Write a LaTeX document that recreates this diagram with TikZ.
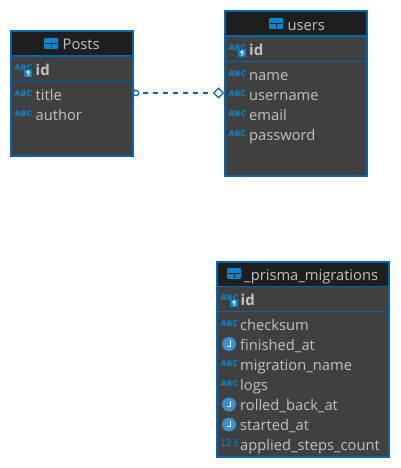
\documentclass[tikz,border=0pt]{standalone}
\usepackage{fontspec}
\setmainfont{Open Sans}
\newfontfamily\iconfont{DejaVu Sans}
\usetikzlibrary{shapes.geometric}
\definecolor{edge}{HTML}{0167AB}
\definecolor{bodyc}{HTML}{404040}
\definecolor{headc}{HTML}{1E1E1E}
\definecolor{txt}{HTML}{C2C2C2}
\definecolor{iconb}{HTML}{0A86CC}
\definecolor{iconl}{HTML}{3A90D2}
\tikzset{
 x=1pt,y=-1pt,
 tablebox/.style={draw=edge,line width=2.2pt,fill=bodyc,inner sep=0pt,anchor=north west},
 title/.style={text=txt,font=\fontsize{14.7}{16}\selectfont,inner sep=0pt,anchor=base west},
 col/.style={text=txt,font=\fontsize{14.7}{16}\selectfont,inner sep=0pt,anchor=base west},
 pk/.style={col,font=\fontsize{15}{16}\selectfont\bfseries},
 abc/.style={text=iconb,font=\iconfont\fontsize{7.8}{9}\selectfont\bfseries,inner sep=0pt},
 num/.style={text=iconb,font=\iconfont\fontsize{9.5}{10}\selectfont,inner sep=0pt},
 rel/.style={draw=edge,line width=1.5pt,dash pattern=on 5.5pt off 4.5pt,dash phase=6.5pt},
 endmark/.style={draw=edge,fill=white,line width=1.2pt,inner sep=0pt},
}
% table: name, x, y, width, height, title x, header bottom, separator y, icon x
\newcommand{\tbl}[9]{%
 \node[tablebox,minimum width=#4pt,minimum height=#5pt] (#1) at (#2,#3) {};
 \fill[headc] (#2+2,#3+2) rectangle (#2+#4,#7-1.5);
 \fill[edge] (#2+2,#7-1.5) rectangle (#2+#4,#7);
 \fill[edge] (#2+2,#8) rectangle (#2+#4,#8+0.8);
 \fill[iconb,rounded corners=1.2pt] (#9,#7-19) rectangle (#9+14,#7-8);
 \fill[headc] (#9+1,#7-14) rectangle (#9+13,#7-13.2);
 \fill[headc] (#9+6.6,#7-14) rectangle (#9+7.4,#7-9);
}
\newcommand{\abcicon}[2]{\node[abc,anchor=center] at (#1+8.5,#2) {ABC};}
\newcommand{\keyicon}[2]{%
 \node[abc,anchor=center] at (#1+8.5,#2-2) {ABC};
 \fill[iconb] (#1+9,#2) rectangle (#1+17,#2+7);
 \draw[white,line width=0.8pt] (#1+13,#2+2) circle (1.4);
 \draw[white,line width=0.8pt] (#1+13.9,#2+3) -- (#1+13.9,#2+4.6) -- (#1+12,#2+5.8);
}
\newcommand{\clockicon}[2]{%
 \fill[iconl] (#1+8,#2) circle (7);
 \draw[white,line width=0.8pt] (#1+9.5,#2-4) -- (#1+9.5,#2+2) -- (#1+5.5,#2+2);
}
\begin{document}
\begin{tikzpicture}
\useasboundingbox (0,0) rectangle (400,468);
\fill[white] (0,0) rectangle (400,468);
% Posts
\tbl{posts}{10}{30}{122}{125}{62}{57}{81}{44}
\node[title] (poststitle) at (62.5,50) {Posts};
\keyicon{15}{70}
\node[pk] (postsid) at (35.5,75.5) {id};
\abcicon{15}{94}
\node[col] (poststitlecol) at (35.5,100.5) {title};
\abcicon{15}{114}
\node[col] (postsauthor) at (35.5,120.5) {author};
% users
\tbl{users}{224}{10}{142}{165}{287}{37}{61}{269}
\node[title] (userstitle) at (287.5,30.5) {users};
\keyicon{229}{50}
\node[pk] (usersid) at (249,55.5) {id};
\abcicon{229}{74}
\node[col] (usersname) at (249,80.5) {name};
\abcicon{229}{94}
\node[col] (usersusername) at (249,100.5) {username};
\abcicon{229}{114}
\node[col] (usersemail) at (249,120.5) {email};
\abcicon{229}{134}
\node[col] (userspassword) at (249,140.5) {password};
% prisma
\tbl{prisma}{216}{261}{172}{195}{244}{287}{311}{227}
\node[title] (prismatitle) at (244,280) {\_prisma\_migrations};
\keyicon{221}{300}
\node[pk] (prismaid) at (240.5,305.5) {id};
\abcicon{221}{324}
\node[col] (checksum) at (240,330.5) {checksum};
\clockicon{221}{344}
\node[col] (finished) at (240,350.5) {finished\_at};
\abcicon{221}{364}
\node[col] (migname) at (240,370.5) {migration\_name};
\abcicon{221}{384}
\node[col] (logs) at (240,390.5) {logs};
\clockicon{221}{404.5}
\node[col] (rolled) at (240,410.5) {rolled\_back\_at};
\clockicon{221}{424.5}
\node[col] (started) at (240,430.5) {started\_at};
\node[num,anchor=center] at (229,443) {123};
\node[col] (applied) at (240,450.5) {applied\_steps\_count};
% relation
\node[endmark,circle,minimum size=5.5pt] (src) at (136,93) {};
\node[endmark,diamond,minimum size=10pt] (dst) at (218.4,93) {};
\draw[rel] (src) -- (dst);
\end{tikzpicture}
\end{document}
